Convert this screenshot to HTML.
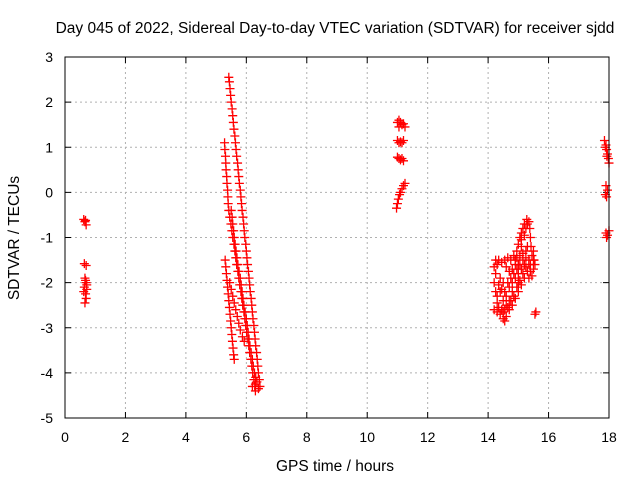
<!DOCTYPE html>
<html><head><meta charset="utf-8">
<style>
html,body{margin:0;padding:0;background:#fff;}
svg{display:block;font-family:"Liberation Sans",sans-serif;}
</style></head>
<body>
<svg id="chart" width="640" height="480" viewBox="0 0 640 480">
<rect x="0" y="0" width="640" height="480" fill="#fff"/>
<text x="335" y="33" text-anchor="middle" font-size="15.5" fill="#000">Day 045 of 2022, Sidereal Day-to-day VTEC variation (SDTVAR) for receiver sjdd</text>
<g id="grid"></g>
<g id="ticks"></g>
<g id="marks"></g>
<rect x="65" y="57" width="544" height="361" fill="none" stroke="#000" stroke-width="1"/>
<text x="335" y="471" text-anchor="middle" font-size="15.5">GPS time / hours</text>
<text x="19" y="238" text-anchor="middle" font-size="15.5" transform="rotate(-90 19 238)">SDTVAR / TECUs</text>
</svg>
<script>
const xTicks=[0,2,4,6,8,10,12,14,16,18];
const yTicks=[-5,-4,-3,-2,-1,0,1,2,3];
const trackA=[[5.42,2.55],[5.44,2.45],[5.46,2.3],[5.48,2.15],[5.50,2.0],[5.53,1.85],[5.55,1.7],[5.57,1.55],[5.59,1.4],[5.62,1.25],[5.64,1.1],[5.66,0.95],[5.68,0.8],[5.71,0.65],[5.73,0.5],[5.75,0.35],[5.77,0.2],[5.80,0.05],[5.82,-0.1],[5.84,-0.25],[5.86,-0.4],[5.89,-0.55],[5.91,-0.7],[5.93,-0.85],[5.95,-1.0],[5.98,-1.15],[6.00,-1.3],[6.02,-1.45],[6.04,-1.6],[6.07,-1.75],[6.09,-1.9],[6.11,-2.05],[6.13,-2.2],[6.16,-2.35],[6.18,-2.5],[6.20,-2.65],[6.22,-2.8],[6.25,-2.95],[6.27,-3.1],[6.29,-3.25],[6.31,-3.4],[6.34,-3.55],[6.36,-3.7],[6.38,-3.85],[6.40,-4.0],[6.43,-4.15],[6.45,-4.3]];
const trackB=[[5.28,1.1],[5.29,0.95],[5.31,0.8],[5.32,0.65],[5.33,0.5],[5.35,0.35],[5.36,0.2],[5.38,0.05],[5.39,-0.1],[5.40,-0.25],[5.42,-0.4],[5.45,-0.55],[5.49,-0.7],[5.52,-0.85],[5.55,-1.0],[5.59,-1.15],[5.62,-1.3],[5.65,-1.45],[5.68,-1.6],[5.72,-1.75],[5.75,-1.9],[5.78,-2.05],[5.82,-2.2],[5.85,-2.35],[5.88,-2.5],[5.92,-2.65],[5.95,-2.8],[5.98,-2.95],[6.01,-3.1],[6.05,-3.25],[6.08,-3.4],[6.11,-3.55],[6.15,-3.7],[6.18,-3.85],[6.21,-4.0],[6.25,-4.15],[6.28,-4.3],[6.30,-4.4]];
const trackB2=[[5.5,-0.4],[5.53,-0.55],[5.55,-0.7],[5.58,-0.85],[5.6,-1.0],[5.63,-1.15],[5.66,-1.3],[5.69,-1.45],[5.72,-1.6],[5.76,-1.75],[5.8,-1.9],[5.83,-2.05],[5.86,-2.2],[5.89,-2.35],[5.92,-2.5],[5.96,-2.65],[6.0,-2.8],[6.03,-2.95],[6.06,-3.1],[6.09,-3.25],[6.12,-3.4],[6.16,-3.55],[6.2,-3.7],[6.23,-3.85],[6.27,-4.0],[6.31,-4.1],[6.35,-4.2],[6.4,-4.35],[6.2,-4.3],[6.3,-4.25]];
const trackC=[[5.30,-1.5],[5.32,-1.65],[5.34,-1.8],[5.36,-1.95],[5.38,-2.1],[5.40,-2.25],[5.42,-2.4],[5.44,-2.55],[5.46,-2.7],[5.48,-2.85],[5.50,-3.0],[5.52,-3.15],[5.54,-3.3],[5.56,-3.45],[5.58,-3.6],[5.60,-3.7]];
const trackC2=[[5.45,-2.0],[5.5,-2.15],[5.55,-2.3],[5.6,-2.45],[5.65,-2.6],[5.7,-2.75],[5.75,-2.9],[5.8,-3.05],[5.87,-3.2],[5.93,-3.3]];
const cluster07=[[0.62,-0.6],[0.66,-0.65],[0.7,-0.72],[0.68,-0.62],[0.64,-1.58],[0.7,-1.62],[0.66,-1.9],[0.7,-2.0],[0.64,-2.1],[0.72,-2.15],[0.68,-2.25],[0.7,-2.35],[0.66,-2.45],[0.62,-2.2],[0.72,-2.05],[0.68,-1.95]];
const cluster11=[[10.97,-0.35],[11.0,-0.25],[11.03,-0.15],[11.07,-0.05],[11.1,0.0],[11.15,0.08],[11.2,0.15],[11.25,0.2],[11.0,1.55],[11.05,1.6],[11.1,1.55],[11.15,1.5],[11.2,1.52],[11.25,1.45],[11.05,1.45],[11.0,1.15],[11.05,1.1],[11.1,1.12],[11.15,1.1],[11.2,1.15],[11.0,0.78],[11.05,0.75],[11.1,0.72],[11.15,0.75],[11.2,0.7]];
const cluster15=[[14.2,-2.6],[14.3,-2.65],[14.4,-2.7],[14.5,-2.8],[14.6,-2.75],[14.7,-2.6],[14.8,-2.5],[14.9,-2.35],[15.0,-2.2],[15.1,-2.05],[15.2,-1.9],[15.3,-1.75],[15.4,-1.6],[15.5,-1.5],[14.25,-1.5],[14.35,-1.5],[14.45,-1.55],[14.55,-1.5],[14.65,-1.45],[14.75,-1.5],[14.85,-1.4],[14.95,-1.45],[15.05,-1.4],[15.15,-1.35],[15.25,-1.45],[15.35,-1.5],[14.3,-2.3],[14.4,-2.2],[14.5,-2.4],[14.6,-2.3],[14.7,-2.1],[14.8,-2.0],[14.9,-1.9],[15.0,-1.8],[15.1,-1.7],[14.5,-2.0],[14.4,-1.9],[14.2,-2.0],[14.25,-1.8],[14.6,-2.5],[14.7,-2.4],[14.8,-2.2],[14.9,-1.5],[14.95,-1.3],[15.0,-1.15],[15.05,-1.0],[15.1,-0.9],[15.15,-0.8],[15.2,-0.7],[15.28,-0.6],[15.35,-0.65],[15.38,-0.8],[15.4,-1.0],[15.42,-1.2],[15.5,-1.3],[15.52,-1.5],[15.5,-1.7],[15.45,-1.85],[15.55,-2.7],[15.58,-2.65],[14.8,-1.7],[15.0,-1.6],[15.2,-1.6],[15.3,-1.2],[15.1,-1.2],[14.25,-2.2],[14.3,-2.45],[14.35,-2.55],[14.45,-2.6],[14.55,-2.6],[14.65,-2.55],[14.75,-2.4],[14.85,-2.3],[14.95,-2.1],[15.05,-1.95],[15.15,-1.8],[15.25,-1.65],[15.35,-1.6],[14.35,-2.05],[14.45,-2.15],[14.55,-2.2],[14.65,-2.0],[14.75,-1.9],[14.85,-1.8],[14.95,-1.7],[15.05,-1.6],[15.15,-1.5],[15.25,-1.3],[14.2,-1.65],[14.3,-1.6],[14.6,-1.65],[14.7,-1.75],[14.9,-1.6],[15.1,-1.05],[15.2,-0.95],[15.25,-0.8],[15.3,-0.7],[15.45,-1.4],[15.55,-1.6],[15.4,-1.75],[14.55,-2.85],[14.5,-2.65],[15.0,-2.0],[15.35,-1.9]];
const cluster18=[[17.85,1.15],[17.9,1.05],[17.92,0.95],[17.95,0.85],[17.98,0.75],[18.0,0.65],[17.88,1.0],[17.93,0.8],[17.9,0.15],[17.95,0.05],[17.88,-0.05],[17.92,-0.1],[17.9,-0.9],[17.95,-0.95],[18.0,-0.85],[17.92,-1.0]];

const L=65,R=609,T=57,B=418,X0=0,X1=18,Y0=-5,Y1=3;
function sx(v){return L+(v-X0)/(X1-X0)*(R-L);}
function sy(v){return B-(v-Y0)/(Y1-Y0)*(B-T);}
const NS='http://www.w3.org/2000/svg';
const grid=document.getElementById('grid'),ticks=document.getElementById('ticks'),marks=document.getElementById('marks');
function mk(tag,attrs,parent){const e=document.createElementNS(NS,tag);for(const k in attrs)e.setAttribute(k,attrs[k]);parent.appendChild(e);return e;}
xTicks.forEach(t=>{
  const x=sx(t);
  if(t>X0&&t<X1){const g=mk('line',{x1:x,y1:T,x2:x,y2:B,stroke:'#b0b0b0','stroke-dasharray':'2,3'},grid);
  
  }
  mk('line',{x1:x,y1:B,x2:x,y2:B-6,stroke:'#000'},ticks);
  mk('line',{x1:x,y1:T,x2:x,y2:T+6,stroke:'#000'},ticks);
  const lb=mk('text',{x:x,y:B+24,'text-anchor':'middle','font-size':'14'},ticks);
  lb.textContent=t;
  
  
});
yTicks.forEach(t=>{
  const y=sy(t);
  if(t>Y0&&t<Y1){const g=mk('line',{x1:L,y1:y,x2:R,y2:y,stroke:'#b0b0b0','stroke-dasharray':'2,3'},grid);
  
  }
  mk('line',{x1:L,y1:y,x2:L+6,y2:y,stroke:'#000'},ticks);
  mk('line',{x1:R,y1:y,x2:R-6,y2:y,stroke:'#000'},ticks);
  const lb=mk('text',{x:L-12,y:y+5,'text-anchor':'end','font-size':'14'},ticks);
  lb.textContent=t;
  
  
});
[trackA,trackB,trackB2,trackC,trackC2,cluster07,cluster11,cluster15,cluster18].forEach(arr=>{
  arr.forEach(p=>{
    const x=sx(p[0]),y=sy(p[1]);
    const m=mk('path',{d:`M${x-4.5},${y}H${x+4.5}M${x},${y-4.5}V${y+4.5}`,stroke:'#ff0000','stroke-width':'1.3',fill:'none'},marks);
    
    
  });
});
</script>
</body></html>
